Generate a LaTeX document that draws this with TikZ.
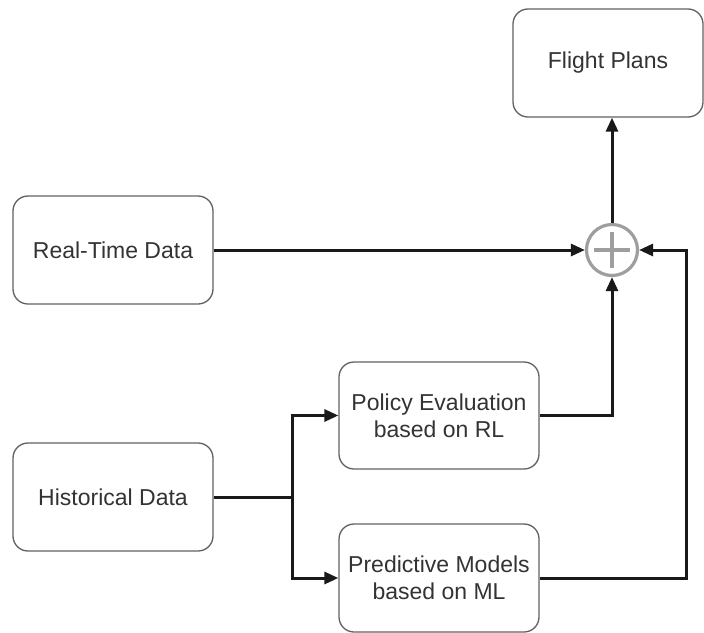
\documentclass[tikz,border=0pt]{standalone}
\usepackage{fontspec}
\setmainfont{Liberation Sans}
\usetikzlibrary{arrows.meta}
\begin{document}
\begin{tikzpicture}[x=1pt,y=-1pt,
  box/.style={draw=black!62, line width=1.3pt, rounded corners=15pt, minimum width=200pt, minimum height=108pt, align=center, font=\fontsize{23}{27}\selectfont, text=black!80, inner sep=0pt},
  conn/.style={line width=3pt, draw=black!90, -{Triangle[length=14pt,width=12pt]}},
  wire/.style={line width=3pt, draw=black!90},
  sumnode/.style={circle, draw=black!38, line width=3.2pt, minimum size=51pt, inner sep=0pt}]
\useasboundingbox (0,0) rectangle (704,632);
\node[box, minimum width=190pt] (fp) at (608,63) {Flight Plans};
\node[box] (rt) at (113,250) {Real-Time Data};
\node[box] (hd) at (113,497) {Historical Data};
\node[box, minimum height=107pt] (pe) at (439,415.5) {Policy Evaluation\\based on RL};
\node[box] (pm) at (439,578) {Predictive Models\\based on ML};
\node[sumnode] (sum) at (612,250) {};
\draw[black!38, line width=3.2pt] ([yshift=-18pt]sum.center) -- ([yshift=18pt]sum.center)
  ([xshift=-18pt]sum.center) -- ([xshift=18pt]sum.center);
\coordinate (j) at (292,497);
\coordinate (r) at (686,250);
\draw[conn] (rt.east) -- (sum.west);
\draw[conn] (pe.east) -| (sum.south);
\draw[conn] (pm.east) -| (r) -- (sum.east);
\draw[conn] (sum.north) -- (sum.north |- fp.south);
\draw[wire] (hd.east) -- (j);
\draw[conn] (j) |- (pe.west);
\draw[conn] (j) |- (pm.west);
\end{tikzpicture}
\end{document}
